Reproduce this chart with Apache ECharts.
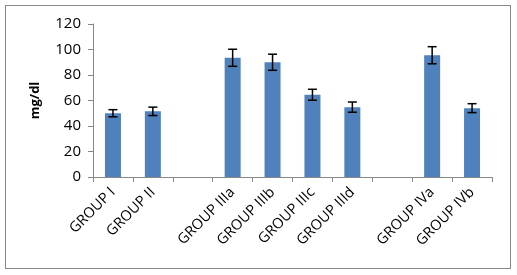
<!DOCTYPE html>
<html>
<head>
<meta charset="utf-8">
<script src="https://cdn.jsdelivr.net/npm/echarts@6/dist/echarts.min.js"></script>
<style>
  html, body { margin: 0; padding: 0; background: #fff; }
  #frame {
    position: absolute; left: 5px; top: 5px; width: 506px; height: 264px;
    border: 1px solid #888; box-sizing: border-box;
  }
  #chart { position: absolute; left: 0; top: 0; width: 517px; height: 275px; }
</style>
</head>
<body>
<div id="frame"></div>
<div id="chart"></div>
<script>
// categories (blank slots are the gaps between groups)
var categories = ['GROUP I', 'GROUP II', '', 'GROUP IIIa', 'GROUP IIIb', 'GROUP IIIc', 'GROUP IIId', '', 'GROUP IVa', 'GROUP IVb'];
var means = [50, 51.5, '-', 93.5, 90, 64.5, 54.8, '-', 95.5, 54];
var errors = [2.8, 3.3, '-', 6.7, 6.3, 4.3, 4, '-', 6.7, 3.5];
var yTicks = { min: 0, max: 120, interval: 20 };

var errData = [];
for (var i = 0; i < categories.length; i++) {
  if (means[i] === '-') continue;
  errData.push([i, means[i] - errors[i], means[i] + errors[i]]);
}

var myChart = echarts.init(document.getElementById('chart'));
myChart.setOption({
  animation: false,
  grid: { left: 93, right: 25, top: 24, bottom: 98 },
  xAxis: {
    type: 'category',
    data: categories,
    axisLine: { lineStyle: { color: '#888', width: 1 } },
    axisTick: { show: true, length: 5, lineStyle: { color: '#888' } },
    axisLabel: {
      interval: 0, rotate: 45, margin: 13,
      color: '#000', fontSize: 14.5, fontFamily: 'Open Sans'
    }
  },
  yAxis: {
    type: 'value',
    min: yTicks.min, max: yTicks.max, interval: yTicks.interval,
    name: 'mg/dl',
    nameLocation: 'middle',
    nameGap: 51,
    nameRotate: 90,
    nameTextStyle: { color: '#000', fontSize: 13, fontWeight: 'bold', fontFamily: 'Open Sans' },
    axisLine: { show: true, lineStyle: { color: '#888' } },
    axisTick: { show: true, length: 5, lineStyle: { color: '#888' } },
    splitLine: { show: false },
    axisLabel: { color: '#000', fontSize: 15, margin: 12, fontFamily: 'Open Sans' }
  },
  series: [
    {
      type: 'bar',
      data: means,
      barWidth: 16,
      itemStyle: { color: '#4f81bd' }
    },
    {
      type: 'custom',
      data: errData,
      z: 10,
      renderItem: function (params, api) {
        var lo = api.coord([api.value(0), api.value(1)]);
        var hi = api.coord([api.value(0), api.value(2)]);
        var hw = 4.5;
        var st = { stroke: '#000', lineWidth: 1.5 };
        return {
          type: 'group',
          children: [
            { type: 'line', shape: { x1: hi[0], y1: hi[1], x2: lo[0], y2: lo[1] }, style: st },
            { type: 'line', shape: { x1: hi[0] - hw, y1: hi[1], x2: hi[0] + hw, y2: hi[1] }, style: st },
            { type: 'line', shape: { x1: lo[0] - hw, y1: lo[1], x2: lo[0] + hw, y2: lo[1] }, style: st }
          ]
        };
      }
    }
  ]
});
</script>
</body>
</html>
